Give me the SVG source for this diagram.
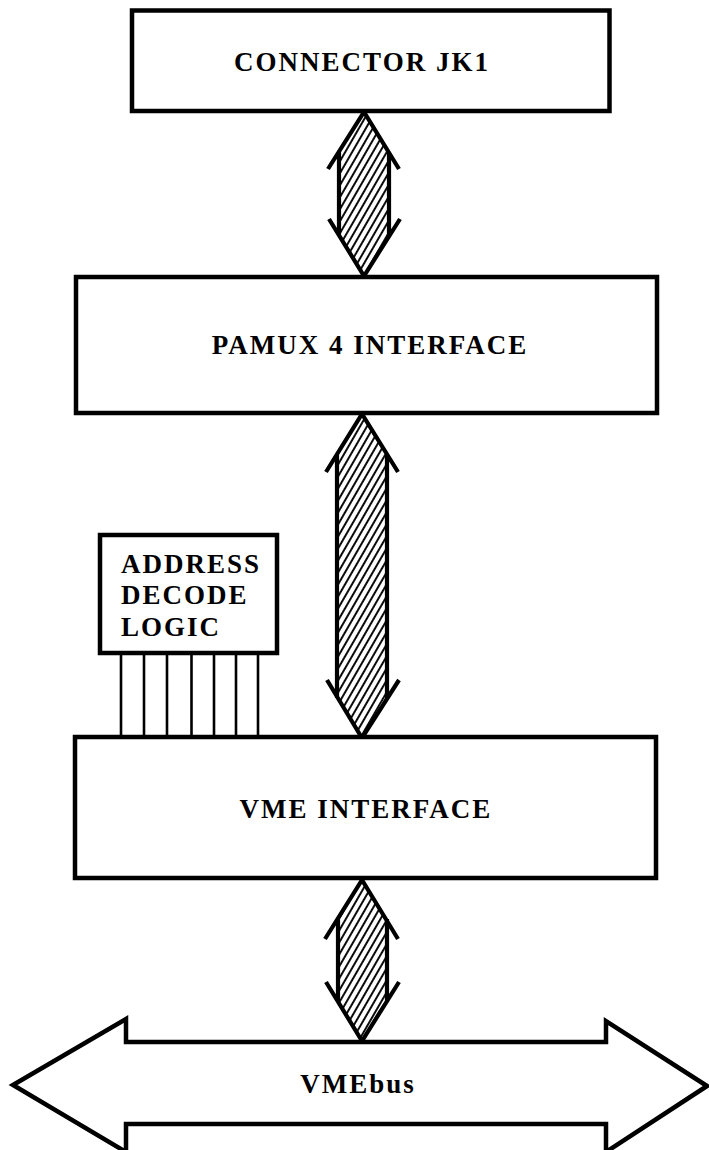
<svg xmlns="http://www.w3.org/2000/svg" width="709" height="1150" viewBox="0 0 709 1150">
<style>
.box{fill:#fff;stroke:#000;stroke-width:4.5}
.lbl{font-family:"Liberation Serif","Times New Roman",serif;font-weight:bold;font-size:27px;letter-spacing:2px;fill:#000}
.out{fill:none;stroke:#000;stroke-width:4.2;stroke-linejoin:miter;stroke-linecap:butt}
.tap{stroke:#000;stroke-width:2.6}
.hatch{fill:url(#hatch);stroke:none}
</style>
<defs>
<pattern id="hatch" patternUnits="userSpaceOnUse" width="6" height="6" patternTransform="rotate(30)">
<rect width="6" height="6" fill="#fff"/>
<line x1="3" y1="0" x2="3" y2="6" stroke="#000" stroke-width="1.9"/>
</pattern>
</defs>
<g id="connectors">
<g id="arrow-jk1-pamux">
<path class="hatch" d="M364,112 L339,152 L339,236 L364,276 L389,236 L389,152 Z"/>
<path class="out" d="M328,169 L364,112 L399,169 M339,152 V236 M389,152 V236 M329,219 L364,276 L400,219"/>
</g>
<g id="arrow-pamux-vme">
<path class="hatch" d="M362,414 L337,454 L337,698 L362,738 L387,698 L387,454 Z"/>
<path class="out" d="M326,472 L362,414 L398,472 M337,454 V698 M387,454 V698 M327,680 L362,738 L399,680"/>
</g>
<g id="arrow-vme-bus">
<path class="hatch" d="M362,880 L338,919 L338,1002 L362,1041 L387,1002 L387,919 Z"/>
<path class="out" d="M325,939 L362,880 L398,939 M338,919 V1002 M387,919 V1002 M326,982 L362,1041 L399,982"/>
</g>
<g id="address-taps">
<line class="tap" x1="121" y1="655" x2="121" y2="736"/>
<line class="tap" x1="144" y1="655" x2="144" y2="736"/>
<line class="tap" x1="167" y1="655" x2="167" y2="736"/>
<line class="tap" x1="191.5" y1="655" x2="191.5" y2="736"/>
<line class="tap" x1="214" y1="655" x2="214" y2="736"/>
<line class="tap" x1="236" y1="655" x2="236" y2="736"/>
<line class="tap" x1="258" y1="655" x2="258" y2="736"/>
</g>
</g>
<g id="connector-jk1">
<rect class="box" x="132" y="10.5" width="477.5" height="100.5"/>
<text class="lbl" x="362" y="71" text-anchor="middle">CONNECTOR JK1</text>
</g>
<g id="pamux-interface">
<rect class="box" x="76" y="277" width="581" height="136"/>
<text class="lbl" x="370" y="354" text-anchor="middle">PAMUX 4 INTERFACE</text>
</g>
<g id="address-decode-logic">
<rect class="box" x="100" y="535" width="177" height="118"/>
<text class="lbl" x="121" y="573">ADDRESS</text>
<text class="lbl" x="121" y="604">DECODE</text>
<text class="lbl" x="121" y="636">LOGIC</text>
</g>
<g id="vme-interface">
<rect class="box" x="75" y="737" width="581" height="141"/>
<text class="lbl" x="366" y="818" text-anchor="middle">VME INTERFACE</text>
</g>
<g id="vmebus">
<path class="box" d="M13,1085 L126,1019 L126,1042 L606,1042 L606,1021 L707,1086 L606,1152 L606,1124 L126,1124 L126,1152 Z"/>
<text class="lbl" x="358" y="1093" text-anchor="middle">VMEbus</text>
</g>
</svg>
